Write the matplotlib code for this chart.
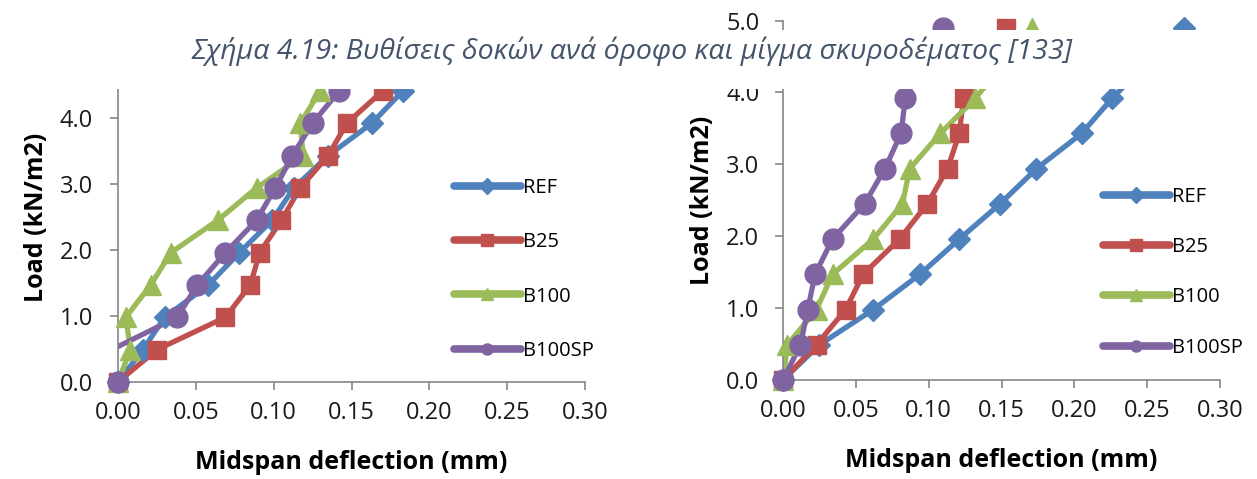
import numpy as np
import matplotlib
matplotlib.use("Agg")
import matplotlib.pyplot as plt
from matplotlib.patches import Rectangle

# load steps (kN/m2)
loads_left = [0.0, 0.49, 0.98, 1.47, 1.96, 2.45, 2.94, 3.43, 3.92, 4.41]
loads_right = [0.0, 0.49, 0.98, 1.47, 1.96, 2.45, 2.94, 3.43, 3.92, 4.41, 4.90]

# midspan deflections (mm), left chart
left_ref = [0.0, 0.016, 0.030, 0.058, 0.078, 0.099, 0.113, 0.135, 0.163, 0.183]
left_b25 = [0.0, 0.025, 0.069, 0.085, 0.091, 0.105, 0.117, 0.135, 0.147, 0.170]
left_b100 = [0.0, 0.008, 0.005, 0.021, 0.034, 0.064, 0.089, 0.119, 0.117, 0.130]
left_b100sp = [0.0, -0.004, 0.038, 0.051, 0.069, 0.089, 0.101, 0.112, 0.125, 0.142]

# midspan deflections (mm), right chart
right_ref = [0.0, 0.025, 0.062, 0.094, 0.121, 0.149, 0.174, 0.205, 0.226, 0.250, 0.275]
right_b25 = [0.0, 0.023, 0.043, 0.055, 0.080, 0.099, 0.113, 0.121, 0.124, 0.138, 0.153]
right_b100 = [0.0, 0.003, 0.023, 0.034, 0.062, 0.082, 0.087, 0.108, 0.132, 0.152, 0.171]
right_b100sp = [0.0, 0.012, 0.017, 0.022, 0.034, 0.056, 0.070, 0.081, 0.084, 0.096, 0.110]

labels = ["REF", "B25", "B100", "B100SP"]
colors = ["#4F81BD", "#C0504D", "#9BBB59", "#8064A2"]
markers = ["D", "s", "^", "o"]
msizes = [11, 13, 14, 15]

caption = "Σχήμα 4.19: Βυθίσεις δοκών ανά όροφο και μίγμα σκυροδέματος [133]"
xticks = [0.0, 0.05, 0.10, 0.15, 0.20, 0.25, 0.30]
yticks = [0.0, 1.0, 2.0, 3.0, 4.0, 5.0]

W, H = 1257, 479
fig = plt.figure(figsize=(W / 100, H / 100), dpi=100)
fig.patch.set_facecolor("white")

AX_GRAY = "#868686"
FONT = "Open Sans"


def px_axes(x0, x1, y0, y1):
    # pixel box (top-left origin) -> figure fraction
    return fig.add_axes([x0 / W, 1 - y0 / H, (x1 - x0) / W, (y0 - y1) / H])


def draw(ax, loads, series, leg_box, leg_space, ypad):
    for xs, c, m, ms, lab in zip(series, colors, markers, msizes, labels):
        xs = np.array(xs)
        ys = np.array(loads)
        ax.plot(xs, ys, color=c, lw=3.8, solid_capstyle="round", zorder=2)
        keep = xs >= 0
        ax.plot(xs[keep], ys[keep], ls="none", marker=m, ms=ms, color=c,
                mec=c, clip_on=False, zorder=3)
    ax.set_xlim(0, 0.30)
    ax.set_ylim(0, 5.0)
    ax.set_xticks(xticks)
    ax.set_xticklabels(["%.2f" % v for v in xticks])
    ax.set_yticks(yticks)
    ax.set_yticklabels(["%.1f" % v for v in yticks])
    for s in ["top", "right"]:
        ax.spines[s].set_visible(False)
    for s in ["left", "bottom"]:
        ax.spines[s].set_color(AX_GRAY)
        ax.spines[s].set_linewidth(1.2)
    ax.tick_params(axis="both", colors=AX_GRAY, length=6, width=1.2,
                   labelcolor="#1a1a1a", labelsize=17)
    ax.tick_params(axis="x", pad=8)
    ax.tick_params(axis="y", pad=ypad)
    for t in ax.get_xticklabels() + ax.get_yticklabels():
        t.set_family(FONT)
    ax.set_xlabel("Midspan deflection (mm)", fontsize=18, fontweight="bold",
                  family=FONT, labelpad=18)
    ax.set_ylabel("Load (kN/m2)", fontsize=18, fontweight="bold",
                  family=FONT, labelpad=8)
    handles = [plt.Line2D([], [], color=c, lw=5.5, marker=m, ms=8,
                          solid_capstyle="round")
               for c, m in zip(colors, markers)]
    leg = ax.legend(handles, labels, loc="upper left", bbox_to_anchor=leg_box,
                    bbox_transform=fig.transFigure, frameon=False,
                    handlelength=3.3, handletextpad=0.1,
                    labelspacing=leg_space, borderaxespad=0,
                    prop={"family": FONT, "size": 14.5})
    return leg


ax1 = px_axes(118, 585, 382, 52)
draw(ax1, loads_left,
     [left_ref, left_b25, left_b100, left_b100sp],
     (446 / W, 1 - 170 / H), 1.7, 12)

ax2 = px_axes(783, 1220, 380, 20.6)
draw(ax2, loads_right,
     [right_ref, right_b25, right_b100, right_b100sp],
     (1095 / W, 1 - 179 / H), 1.5, 11)

# white band with the document caption laid over the charts
fig.patches.append(Rectangle((0, 1 - 89 / H), 1, 59 / H, transform=fig.transFigure,
                             facecolor="white", edgecolor="none", zorder=5))
fig.text(632 / W, 1 - 51 / H, caption, ha="center", va="center",
         fontsize=20.5, style="italic", color="#44546A", family=FONT, zorder=6)

fig.savefig("out.png", dpi=100, facecolor="white")
